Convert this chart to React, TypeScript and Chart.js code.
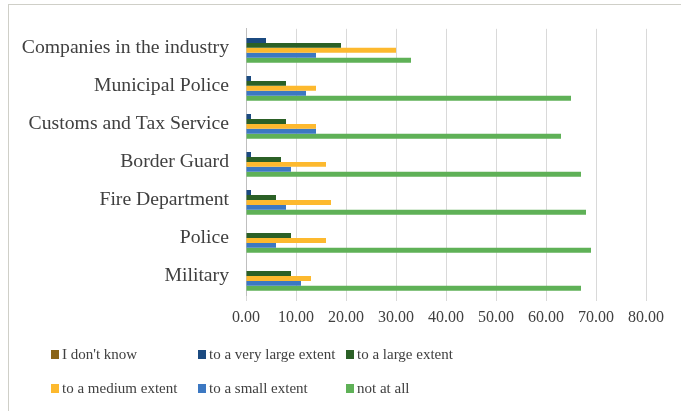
import React, { useEffect, useRef } from "react";
import { Chart, registerables } from "chart.js";

Chart.register(...registerables);

const categories = [
  "Companies in the industry",
  "Municipal Police",
  "Customs and Tax Service",
  "Border Guard",
  "Fire Department",
  "Police",
  "Military",
];

const seriesNames = [
  "I don't know",
  "to a very large extent",
  "to a large extent",
  "to a medium extent",
  "to a small extent",
  "not at all",
];

const dontKnow = [0, 0, 0, 0, 0, 0, 0];
const veryLarge = [4, 1, 1, 1, 1, 0, 0];
const large = [19, 8, 8, 7, 6, 9, 9];
const medium = [30, 14, 14, 16, 17, 16, 13];
const small = [14, 12, 14, 9, 8, 6, 11];
const notAtAll = [33, 65, 63, 67, 68, 69, 67];

const seriesValues = [dontKnow, veryLarge, large, medium, small, notAtAll];

const seriesColors = ["#8a6417", "#1b4a80", "#2b6026", "#fdb92e", "#3c78c2", "#5fb157"];

const TEXT = "#404040";
const FONT = "'Liberation Serif', 'Times New Roman', serif";

export default function App() {
  const ref = useRef<HTMLCanvasElement>(null);

  useEffect(() => {
    if (!ref.current) return;
    const chart = new Chart(ref.current, {
      type: "bar",
      data: {
        labels: categories,
        datasets: seriesNames.map((name, i) => ({
          label: name,
          data: seriesValues[i],
          backgroundColor: seriesColors[i],
          borderWidth: 0,
          barPercentage: 1,
          categoryPercentage: 0.78,
        })),
      },
      options: {
        indexAxis: "y",
        responsive: false,
        animation: false,
        layout: { padding: { left: 10, top: 26, right: 35, bottom: 86 } },
        plugins: {
          legend: { display: false },
          tooltip: { enabled: false },
        },
        scales: {
          x: {
            min: 0,
            max: 80,
            ticks: {
              stepSize: 10,
              callback: (v: any) => Number(v).toFixed(2),
              font: { family: FONT, size: 16 },
              color: TEXT,
              padding: 7,
              maxRotation: 0,
            },
            grid: { color: "#d9d9d9", tickLength: 6, lineWidth: 1 },
            border: { display: false },
            afterFit: (s: any) => {
              s.height = 30;
            },
          },
          y: {
            grid: { display: false, drawTicks: false },
            border: { display: true, color: "#bfbfbf" },
            ticks: {
              font: { family: FONT, size: 19.7 },
              color: TEXT,
              padding: 17,
              autoSkip: false,
            },
            afterFit: (s: any) => {
              s.width = 236;
            },
          },
        },
      },
    });
    return () => chart.destroy();
  }, []);

  return (
    <div
      style={{
        position: "fixed",
        left: 0,
        top: 0,
        width: 681,
        height: 411,
        background: "#fff",
        overflow: "hidden",
      }}
    >
      <div
        style={{
          position: "absolute",
          left: 8,
          top: 4,
          width: 700,
          height: 430,
          border: "1px solid #cfcfc8",
        }}
      />
      <canvas
        ref={ref}
        width={681}
        height={411}
        style={{ position: "absolute", left: 0, top: 0, display: "block" }}
      />
      <div
        style={{
          position: "absolute",
          left: 51,
          top: 337,
          display: "grid",
          gridTemplateColumns: "147px 148px 148px",
          gridAutoRows: "34px",
          fontFamily: FONT,
          fontSize: 15,
          color: TEXT,
        }}
      >
        {seriesNames.map((name, i) => (
          <div key={name} style={{ display: "flex", alignItems: "center", whiteSpace: "nowrap" }}>
            <span
              style={{
                display: "inline-block",
                width: 8,
                height: 9,
                background: seriesColors[i],
                marginRight: 3,
              }}
            />
            <span>{name}</span>
          </div>
        ))}
      </div>
    </div>
  );
}
